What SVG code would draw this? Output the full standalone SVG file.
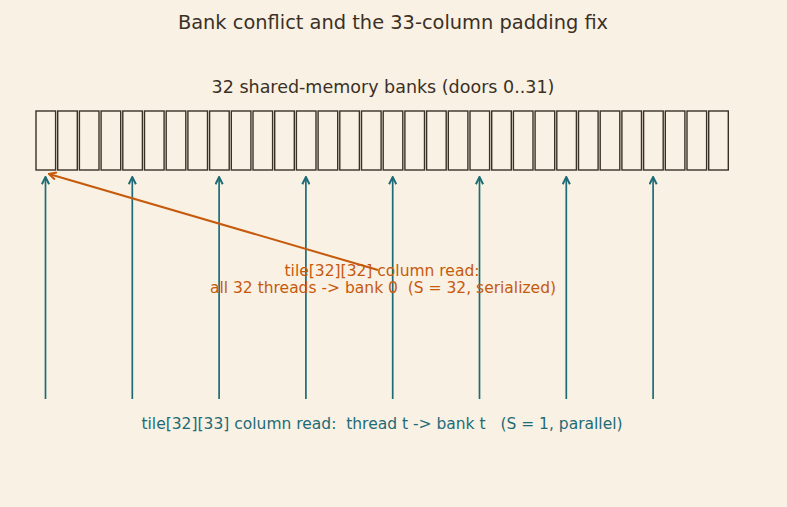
<svg xmlns="http://www.w3.org/2000/svg" width="787" height="507" viewBox="0 0 787 507">
<defs>
<style>
text{font-family:"DejaVu Sans",sans-serif;text-anchor:middle}
.pre{white-space:pre}
.bank{fill:#f9f1e3;stroke:#3b3026;stroke-width:1.4}
.t{stroke:#1d6b77;stroke-width:1.7;fill:none}
.o{stroke:#c65a0c;stroke-width:2;fill:none}
</style>
<marker id="ah" viewBox="0 0 10 10" refX="9" refY="5" markerWidth="9" markerHeight="9" markerUnits="userSpaceOnUse" orient="auto"><path d="M1,1 L9,5 L1,9" fill="none" stroke="#1d6b77" stroke-width="2.2"/></marker>
<marker id="ao" viewBox="0 0 10 10" refX="9" refY="5" markerWidth="9" markerHeight="9" markerUnits="userSpaceOnUse" orient="auto"><path d="M1,1 L9,5 L1,9" fill="none" stroke="#c65a0c" stroke-width="2.2"/></marker>
</defs>
<rect width="787" height="507" fill="#f9f1e3"/>
<text x="393" y="29" font-size="19.4" fill="#3b3026">Bank conflict and the 33-column padding fix</text>
<text x="383" y="93" font-size="17.5" fill="#3b3026">32 shared-memory banks (doors 0..31)</text>
<g id="banks">
<rect class="bank" x="36" y="111" width="19.6" height="59"/>
<rect class="bank" x="57.7" y="111" width="19.6" height="59"/>
<rect class="bank" x="79.4" y="111" width="19.6" height="59"/>
<rect class="bank" x="101.1" y="111" width="19.6" height="59"/>
<rect class="bank" x="122.8" y="111" width="19.6" height="59"/>
<rect class="bank" x="144.5" y="111" width="19.6" height="59"/>
<rect class="bank" x="166.2" y="111" width="19.6" height="59"/>
<rect class="bank" x="187.9" y="111" width="19.6" height="59"/>
<rect class="bank" x="209.6" y="111" width="19.6" height="59"/>
<rect class="bank" x="231.3" y="111" width="19.6" height="59"/>
<rect class="bank" x="253" y="111" width="19.6" height="59"/>
<rect class="bank" x="274.7" y="111" width="19.6" height="59"/>
<rect class="bank" x="296.4" y="111" width="19.6" height="59"/>
<rect class="bank" x="318.1" y="111" width="19.6" height="59"/>
<rect class="bank" x="339.8" y="111" width="19.6" height="59"/>
<rect class="bank" x="361.5" y="111" width="19.6" height="59"/>
<rect class="bank" x="383.2" y="111" width="19.6" height="59"/>
<rect class="bank" x="404.9" y="111" width="19.6" height="59"/>
<rect class="bank" x="426.6" y="111" width="19.6" height="59"/>
<rect class="bank" x="448.3" y="111" width="19.6" height="59"/>
<rect class="bank" x="470" y="111" width="19.6" height="59"/>
<rect class="bank" x="491.7" y="111" width="19.6" height="59"/>
<rect class="bank" x="513.4" y="111" width="19.6" height="59"/>
<rect class="bank" x="535.1" y="111" width="19.6" height="59"/>
<rect class="bank" x="556.8" y="111" width="19.6" height="59"/>
<rect class="bank" x="578.5" y="111" width="19.6" height="59"/>
<rect class="bank" x="600.2" y="111" width="19.6" height="59"/>
<rect class="bank" x="621.9" y="111" width="19.6" height="59"/>
<rect class="bank" x="643.6" y="111" width="19.6" height="59"/>
<rect class="bank" x="665.3" y="111" width="19.6" height="59"/>
<rect class="bank" x="687" y="111" width="19.6" height="59"/>
<rect class="bank" x="708.7" y="111" width="19.6" height="59"/>
</g>
<g id="connectors">
<line class="t" x1="45.5" y1="399" x2="45.5" y2="177" marker-end="url(#ah)"/>
<line class="t" x1="132.3" y1="399" x2="132.3" y2="177" marker-end="url(#ah)"/>
<line class="t" x1="219.1" y1="399" x2="219.1" y2="177" marker-end="url(#ah)"/>
<line class="t" x1="305.9" y1="399" x2="305.9" y2="177" marker-end="url(#ah)"/>
<line class="t" x1="392.7" y1="399" x2="392.7" y2="177" marker-end="url(#ah)"/>
<line class="t" x1="479.5" y1="399" x2="479.5" y2="177" marker-end="url(#ah)"/>
<line class="t" x1="566.3" y1="399" x2="566.3" y2="177" marker-end="url(#ah)"/>
<line class="t" x1="653.1" y1="399" x2="653.1" y2="177" marker-end="url(#ah)"/>
<line class="o" x1="378" y1="270" x2="49" y2="174" marker-end="url(#ao)"/>
</g>
<g id="labels">
<text x="382" y="276" font-size="15.5" fill="#c65a0c">tile[32][32] column read:</text>
<text class="pre" xml:space="preserve" x="383" y="293" font-size="15.5" fill="#c65a0c">all 32 threads -&gt; bank 0  (S = 32, serialized)</text>
<text class="pre" xml:space="preserve" x="382" y="429" font-size="15.5" fill="#1d6b77">tile[32][33] column read:  thread t -&gt; bank t   (S = 1, parallel)</text>
</g>
</svg>
